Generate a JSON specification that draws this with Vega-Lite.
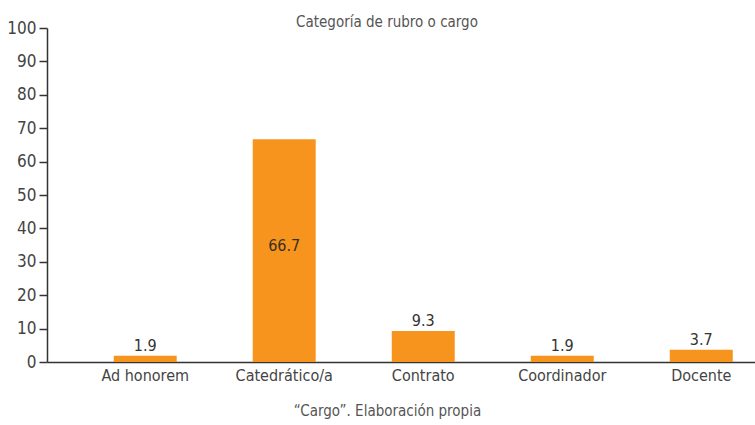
{
  "$schema": "https://vega.github.io/schema/vega-lite/v6.json",
  "width": 708,
  "height": 334,
  "autosize": {"type": "none"},
  "padding": {"left": 47, "top": 28, "right": 0, "bottom": 63},
  "background": "white",
  "title": {
    "text": "Categoría de rubro o cargo",
    "font": "DejaVu Sans Condensed",
    "fontSize": 15,
    "fontWeight": "normal",
    "color": "#555555",
    "frame": "group",
    "baseline": "alphabetic",
    "offset": 0,
    "dy": 23,
    "dx": -14
  },
  "config": {
    "view": {"stroke": null},
    "font": "DejaVu Sans Condensed"
  },
  "data": {
    "values": [
      {"cargo": "Ad honorem", "pct": 1.9},
      {"cargo": "Catedrático/a", "pct": 66.7},
      {"cargo": "Contrato", "pct": 9.3},
      {"cargo": "Coordinador", "pct": 1.9},
      {"cargo": "Docente", "pct": 3.7}
    ]
  },
  "encoding": {
    "x": {
      "field": "cargo",
      "type": "nominal",
      "sort": null,
      "scale": {"paddingInner": 0.547, "paddingOuter": 0.32, "align": 0.75},
      "axis": {
        "labelAngle": 0,
        "ticks": false,
        "domainColor": "#333333",
        "domainWidth": 1.5,
        "labelFontSize": 16,
        "labelColor": "#444444",
        "labelPadding": 5,
        "title": "“Cargo”. Elaboración propia",
        "titleFontSize": 15,
        "titleFontWeight": "normal",
        "titleColor": "#555555",
        "titlePadding": 20,
        "titleX": 340
      }
    },
    "y": {
      "field": "pct",
      "type": "quantitative",
      "scale": {"domain": [0, 100], "nice": false},
      "axis": {
        "values": [0, 10, 20, 30, 40, 50, 60, 70, 80, 90, 100],
        "labelOverlap": false,
        "grid": false,
        "title": null,
        "tickSize": 8,
        "tickColor": "#333333",
        "tickWidth": 1.5,
        "domainColor": "#333333",
        "domainWidth": 1.5,
        "labelFontSize": 17,
        "labelColor": "#444444",
        "labelPadding": 3
      }
    }
  },
  "layer": [
    {
      "mark": {"type": "bar", "color": "#F7941D"}
    },
    {
      "transform": [{"filter": "datum.pct < 50"}],
      "mark": {"type": "text", "baseline": "alphabetic", "dy": -5, "fontSize": 16, "color": "#333333"},
      "encoding": {
        "text": {"field": "pct", "type": "quantitative", "format": ".1f"}
      }
    },
    {
      "transform": [{"filter": "datum.pct >= 50"}, {"calculate": "datum.pct / 2", "as": "mid"}],
      "mark": {"type": "text", "baseline": "alphabetic", "dy": 0, "fontSize": 16, "color": "#3a3020"},
      "encoding": {
        "y": {
          "field": "mid",
          "type": "quantitative",
          "scale": {"domain": [0, 100], "nice": false},
          "axis": {
            "values": [0, 10, 20, 30, 40, 50, 60, 70, 80, 90, 100],
            "labelOverlap": false,
            "grid": false,
            "title": null,
            "tickSize": 8,
            "tickColor": "#333333",
            "tickWidth": 1.5,
            "domainColor": "#333333",
            "domainWidth": 1.5,
            "labelFontSize": 17,
            "labelColor": "#444444",
            "labelPadding": 3
          }
        },
        "text": {"field": "pct", "type": "quantitative", "format": ".1f"}
      }
    }
  ]
}
